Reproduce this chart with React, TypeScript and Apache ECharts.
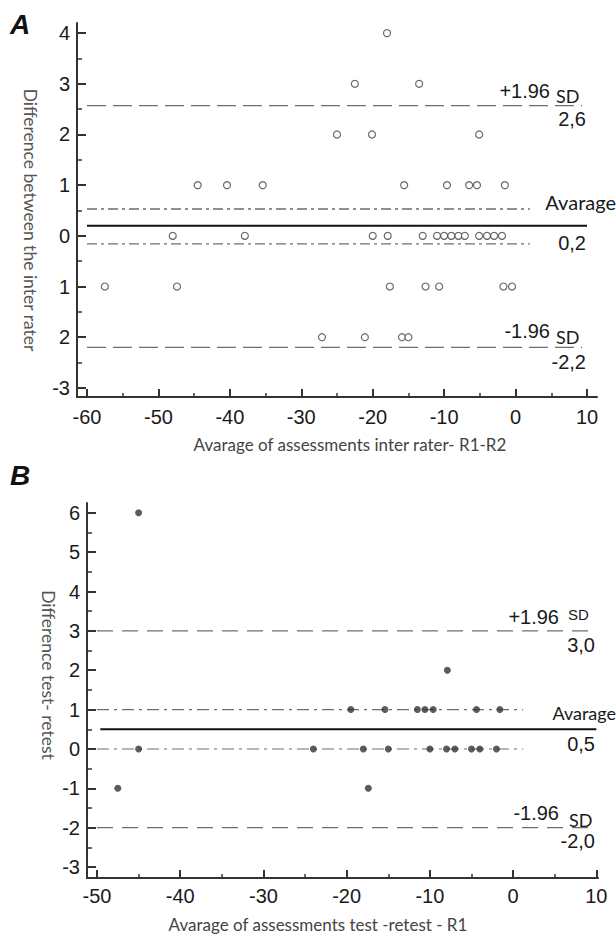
import React, { useEffect, useRef } from "react";
import * as echarts from "echarts";

// ---------- Panel A data ----------
const xTicksA = [-60, -50, -40, -30, -20, -10, 0, 10];
const xMinorA = [-55, -45, -35, -25, -15, -5, 5];
const yTicksA = [-3, -2, -1, 0, 1, 2, 3, 4];
const yTickLabelsA = ["-3", "2", "1", "0", "1", "2", "3", "4"];
const yMinorA = [-2.5, -1.5, -0.5, 0.5, 1.5, 2.5, 3.5];

const xA = [
  -18,
  -22.5, -13.5,
  -25, -20.1, -5.1,
  -44.5, -40.4, -35.4, -15.6, -9.6, -6.5, -5.4, -1.5,
  -48, -37.9, -20, -17.9, -13, -11, -10, -9, -8, -7.1, -5.1, -4, -3, -1.9,
  -57.5, -47.4, -17.6, -12.6, -10.7, -1.7, -0.5,
  -27.1, -21.1, -15.9, -15.0,
];
const yA = [
  4,
  3, 3,
  2, 2, 2,
  1, 1, 1, 1, 1, 1, 1, 1,
  0, 0, 0, 0, 0, 0, 0, 0, 0, 0, 0, 0, 0, 0,
  -1, -1, -1, -1, -1, -1, -1,
  -2, -2, -2, -2,
];
// mean, CI of mean (upper, lower), limits of agreement (+1.96SD, -1.96SD)
const meanA = 0.2;
const ciA = [0.53, -0.16];
const sdA = [2.57, -2.2];
const lineXA = { start: -60, sdEnd: 9.3, meanEnd: 10, ciEnd: 2 };
const labelsA = ["+1.96", "SD", "2,6", "Avarage", "0,2", "-1.96", "SD", "-2,2"];

// ---------- Panel B data ----------
const xTicksB = [-50, -40, -30, -20, -10, 0, 10];
const xMinorB = [-45, -35, -25, -15, -5, 5];
const yTicksB = [-3, -2, -1, 0, 1, 2, 3, 4, 5, 6];
const yTickLabelsB = ["-3", "-2", "-1", "0", "1", "2", "3", "4", "5", "6"];
const yMinorB = [-2.5, -1.5, -0.5, 0.5, 1.5, 2.5, 3.5, 4.5, 5.5];

const xB = [
  -45,
  -7.9,
  -19.5, -15.4, -11.5, -10.6, -9.6, -4.4, -1.6,
  -45, -24, -18, -15, -10, -8, -7, -5, -4, -2,
  -47.5, -17.4,
];
const yB = [
  6,
  2,
  1, 1, 1, 1, 1, 1, 1,
  0, 0, 0, 0, 0, 0, 0, 0, 0, 0,
  -1, -1,
];
const meanB = 0.5;
const ciB = [1.0, 0.0];
const sdB = [3.0, -2.0];
const lineXB = { start: -50, meanStart: -49.6, sdEnd: 9.4, meanEnd: 10, ciEnd: 1.2 };
const labelsB = ["+1.96", "SD", "3,0", "Avarage", "0,5", "-1.96", "SD", "-2,0"];

const titleA = { y: "Difference between the inter rater", x: "Avarage of assessments inter rater- R1-R2" };
const titleB = { y: "Difference test- retest", x: "Avarage of assessments test -retest - R1" };

const TICK_FONT = "Liberation Sans, Arial, sans-serif";
const TITLE_FONT = "Lato, Open Sans, sans-serif";
const AXIS_COLOR = "#333";
const GRAY = "#6e6e6e";

function majorX(gridIndex: number, min: number, max: number, ticks: number[]) {
  return {
    type: "value",
    gridIndex,
    min,
    max,
    position: "bottom",
    splitLine: { show: false },
    axisLine: { show: true, onZero: false, lineStyle: { color: AXIS_COLOR, width: 2 } },
    axisTick: { show: true, inside: true, length: 8, customValues: ticks, lineStyle: { color: AXIS_COLOR, width: 2 } },
    axisLabel: {
      show: true,
      customValues: ticks,
      margin: gridIndex === 0 ? 10 : 8,
      color: "#1a1a1a",
      fontFamily: TICK_FONT,
      fontSize: 20,
      formatter: (v: number) => String(Math.round(v)),
    },
  };
}
function minorX(gridIndex: number, min: number, max: number, ticks: number[]) {
  return {
    type: "value",
    gridIndex,
    min,
    max,
    position: "bottom",
    offset: 0,
    splitLine: { show: false },
    axisLine: { show: false, onZero: false },
    axisTick: { show: true, inside: true, length: 4, customValues: ticks, lineStyle: { color: AXIS_COLOR, width: 1.5 } },
    axisLabel: { show: false },
  };
}
function majorY(gridIndex: number, min: number, max: number, ticks: number[], labels: string[]) {
  return {
    type: "value",
    gridIndex,
    min,
    max,
    position: "left",
    offset: 0,
    splitLine: { show: false },
    axisLine: { show: true, onZero: false, lineStyle: { color: AXIS_COLOR, width: 2 } },
    axisTick: { show: true, inside: true, length: 9, customValues: ticks, lineStyle: { color: AXIS_COLOR, width: 2 } },
    axisLabel: {
      show: true,
      customValues: ticks,
      margin: 7,
      color: "#1a1a1a",
      fontFamily: TICK_FONT,
      fontSize: 20,
      formatter: (v: number) => {
        const i = ticks.findIndex((t) => Math.abs(t - v) < 1e-6);
        return i >= 0 ? labels[i] : "";
      },
    },
  };
}
function minorY(gridIndex: number, min: number, max: number, ticks: number[]) {
  return {
    type: "value",
    gridIndex,
    min,
    max,
    position: "left",
    offset: 0,
    splitLine: { show: false },
    axisLine: { show: false, onZero: false },
    axisTick: { show: true, inside: true, length: 5, customValues: ticks, lineStyle: { color: AXIS_COLOR, width: 1.5 } },
    axisLabel: { show: false },
  };
}

function hline(xi: number, yi: number, x0: number, x1: number, y: number, type: any, width: number, color: string) {
  return {
    type: "line",
    xAxisIndex: xi,
    yAxisIndex: yi,
    data: [[x0, y], [x1, y]],
    symbol: "none",
    silent: true,
    lineStyle: { color, width, type },
    z: 1,
  };
}

function txt(x: number, y: number, text: string, size: number, align: string, font: string, color = "#1a1a1a", extra: any = {}) {
  return {
    type: "text",
    x,
    y,
    silent: true,
    ...extra,
    style: {
      text,
      fill: color,
      font: `${size}px ${font}`,
      align,
      textAlign: align,
      verticalAlign: "middle",
      textVerticalAlign: "middle",
    },
  };
}

function letter(x: number, y: number, t: string) {
  return {
    type: "text",
    x,
    y,
    silent: true,
    style: {
      text: t,
      fill: "#111",
      font: "italic bold 28px Liberation Sans, Arial, sans-serif",
      align: "left",
      textAlign: "left",
      verticalAlign: "middle",
      textVerticalAlign: "middle",
    },
  };
}

export default function App() {
  const ref = useRef<HTMLDivElement>(null);
  useEffect(() => {
    document.body.style.margin = "0";
    if (!ref.current) return;
    const chart = echarts.init(ref.current, undefined, { renderer: "svg" });

    const option: any = {
      animation: false,
      backgroundColor: "#ffffff",
      grid: [
        { left: 77, top: 23, width: 520, height: 374, containLabel: false },
        { left: 87, top: 503, width: 511, height: 375, containLabel: false },
      ],
      xAxis: [
        majorX(0, -61.4, 11.4, xTicksA),
        minorX(0, -61.4, 11.4, xMinorA),
        majorX(1, -51.2, 10.2, xTicksB),
        minorX(1, -51.2, 10.2, xMinorB),
      ],
      yAxis: [
        majorY(0, -3.18, 4.2, yTicksA, yTickLabelsA),
        minorY(0, -3.18, 4.2, yMinorA),
        majorY(1, -3.28, 6.25, yTicksB, yTickLabelsB),
        minorY(1, -3.28, 6.25, yMinorB),
      ],
      series: [
        // Panel A lines
        hline(0, 0, lineXA.start, lineXA.sdEnd, sdA[0], [19, 7], 1.3, GRAY),
        hline(0, 0, lineXA.start, lineXA.sdEnd, sdA[1], [19, 7], 1.3, GRAY),
        hline(0, 0, lineXA.start, lineXA.ciEnd, ciA[0], [10, 4, 3, 4], 1.3, GRAY),
        hline(0, 0, lineXA.start, lineXA.ciEnd, ciA[1], [10, 4, 3, 4], 1.3, GRAY),
        hline(0, 0, lineXA.start, lineXA.meanEnd, meanA, "solid", 2, "#111"),
        {
          type: "scatter",
          xAxisIndex: 0,
          yAxisIndex: 0,
          data: xA.map((x, i) => [x, yA[i]]),
          symbol: "circle",
          symbolSize: 7,
          itemStyle: { color: "#fff", borderColor: "#444", borderWidth: 1.2 },
          z: 3,
        },
        // Panel B lines
        hline(2, 2, lineXB.start, lineXB.sdEnd, sdB[0], [16, 9], 1.1, GRAY),
        hline(2, 2, lineXB.start, lineXB.sdEnd, sdB[1], [16, 9], 1.1, GRAY),
        hline(2, 2, lineXB.start, lineXB.ciEnd, ciB[0], [12, 5, 3, 5], 1.1, GRAY),
        hline(2, 2, lineXB.start, lineXB.ciEnd, ciB[1], [12, 5, 3, 5], 1.1, GRAY),
        hline(2, 2, lineXB.meanStart, lineXB.meanEnd, meanB, "solid", 2, "#111"),
        {
          type: "scatter",
          xAxisIndex: 2,
          yAxisIndex: 2,
          data: xB.map((x, i) => [x, yB[i]]),
          symbol: "circle",
          symbolSize: 7,
          itemStyle: { color: "#333", borderColor: "#333", borderWidth: 0 },
          z: 3,
        },
      ],
      graphic: [
        letter(10, 24, "A"),
        letter(10, 475, "B"),
        // Panel A reference labels
        txt(550, 91, labelsA[0], 20, "right", TICK_FONT),
        txt(556, 96, labelsA[1], 18, "left", TITLE_FONT),
        txt(586, 119, labelsA[2], 20, "right", TICK_FONT),
        txt(616, 202, labelsA[3], 20, "right", TITLE_FONT),
        txt(586, 243, labelsA[4], 20, "right", TICK_FONT),
        txt(550, 331, labelsA[5], 20, "right", TICK_FONT),
        txt(556, 337, labelsA[6], 18, "left", TITLE_FONT),
        txt(586, 362, labelsA[7], 20, "right", TICK_FONT),
        // Panel B reference labels
        txt(559, 617, labelsB[0], 20, "right", TICK_FONT),
        txt(568, 614, labelsB[1], 15, "left", TICK_FONT),
        txt(595, 645, labelsB[2], 20, "right", TICK_FONT),
        txt(616, 713, labelsB[3], 18, "right", TITLE_FONT),
        txt(595, 744, labelsB[4], 20, "right", TICK_FONT),
        txt(559, 813, labelsB[5], 20, "right", TICK_FONT),
        txt(569, 820, labelsB[6], 18, "left", TITLE_FONT),
        txt(595, 841, labelsB[7], 20, "right", TICK_FONT),
        // axis titles
        txt(350, 444, titleA.x, 17, "center", TITLE_FONT, "#444"),
        txt(30, 220, titleA.y, 17.5, "center", TITLE_FONT, "#555", { rotation: -Math.PI / 2 }),
        txt(318, 924, titleB.x, 17, "center", TITLE_FONT, "#444"),
        txt(48, 675, titleB.y, 17.5, "center", TITLE_FONT, "#555", { rotation: -Math.PI / 2 }),
      ],
    };

    chart.setOption(option);
    return () => chart.dispose();
  }, []);
  return <div ref={ref} style={{ width: 616, height: 934 }} />;
}
